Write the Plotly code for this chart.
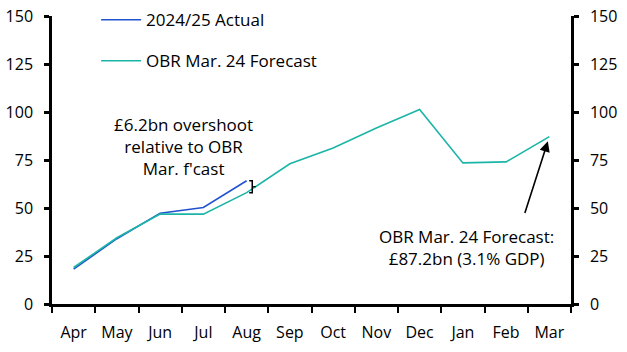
import plotly.graph_objects as go

months = ["Apr", "May", "Jun", "Jul", "Aug", "Sep", "Oct", "Nov", "Dec", "Jan", "Feb", "Mar"]
actual = [18.2, 34.0, 47.3, 50.3, 64.2]
forecast = [19.0, 34.5, 46.8, 46.8, 58.0, 73.0, 81.3, 91.7, 101.3, 73.5, 74.0, 87.2]
y_ticks = [0, 25, 50, 75, 100, 125, 150]

FONT = "Open Sans"
BLUE = "#2152d0"
TEAL = "#1bb5a8"
xi = list(range(len(months)))

fig = go.Figure()
fig.add_trace(go.Scatter(x=xi[:len(actual)], y=actual, mode="lines", name="2024/25 Actual",
                         line=dict(color=BLUE, width=1.6), legendgroup="a"))
fig.add_trace(go.Scatter(x=xi, y=forecast, mode="lines", name="OBR Mar. 24 Forecast",
                         line=dict(color=TEAL, width=1.6), legendgroup="b"))
fig.add_trace(go.Scatter(x=[xi[0]], y=[0], yaxis="y2", mode="markers", opacity=0,
                         showlegend=False, hoverinfo="skip"))

bx = 4 + 0.06
bw = 0.07
ya, yf = actual[4], forecast[4]
fig.add_shape(type="path", xref="x", yref="y",
              path=f"M {bx} {ya} L {bx+bw} {ya} L {bx+bw} {yf} L {bx} {yf}",
              line=dict(color="black", width=1.5))
fig.add_shape(type="line", xref="x", yref="y", x0=bx+bw, x1=bx+bw+0.08,
              y0=(ya+yf)/2, y1=(ya+yf)/2, line=dict(color="black", width=1.2))

fig.add_annotation(x=2.55, y=82, xref="x", yref="y",
                   text="£6.2bn overshoot<br>relative to OBR<br>Mar. f'cast",
                   showarrow=False, font=dict(family=FONT, size=17, color="black"), align="center")
fig.add_annotation(x=9.08, y=29.5, xref="x", yref="y",
                   text="OBR Mar. 24 Forecast:<br>£87.2bn (3.1% GDP)",
                   showarrow=False, font=dict(family=FONT, size=17, color="black"), align="center")
fig.add_annotation(x=11, y=forecast[11], xref="x", yref="y", ax=-25, ay=78,
                   text="", showarrow=True, arrowhead=2, arrowsize=1.3, arrowwidth=1.6,
                   arrowcolor="black", standoff=5)

axis_common = dict(range=[0, 150], tickvals=y_ticks, ticks="outside", ticklen=5, tickwidth=2.5,
                   tickcolor="black", showline=True, linecolor="black", linewidth=2.5,
                   showgrid=False, zeroline=False, ticklabelstandoff=8, automargin=False,
                   domain=[0, 288 / 304],
                   tickfont=dict(family=FONT, size=16, color="black"))

fig.update_layout(
    width=627, height=352,
    margin=dict(l=52, r=56, t=0, b=48, autoexpand=False),
    paper_bgcolor="white", plot_bgcolor="white",
    showlegend=True,
    legend=dict(x=0.085, y=0.993, xanchor="left", yanchor="top", bgcolor="rgba(0,0,0,0)",
                font=dict(family=FONT, size=17, color="black"), tracegroupgap=16,
                traceorder="grouped", itemwidth=40),
    xaxis=dict(type="linear", range=[-0.5, 11.5], tickvals=xi, ticktext=months,
               ticks="", showline=True, linecolor="black", linewidth=2.5, showgrid=False,
               zeroline=False, ticklabelstandoff=12, automargin=False,
               tickfont=dict(family=FONT, size=16, color="black")),
    yaxis=dict(**axis_common, side="left"),
    yaxis2=dict(**axis_common, side="right", overlaying="y", anchor="x"),
)
fig.update_xaxes(minor=dict(tickvals=[i - 0.5 for i in range(len(months) + 1)], ticks="outside",
                            ticklen=6, tickwidth=2, tickcolor="black"))

fig.write_html("out.html")
